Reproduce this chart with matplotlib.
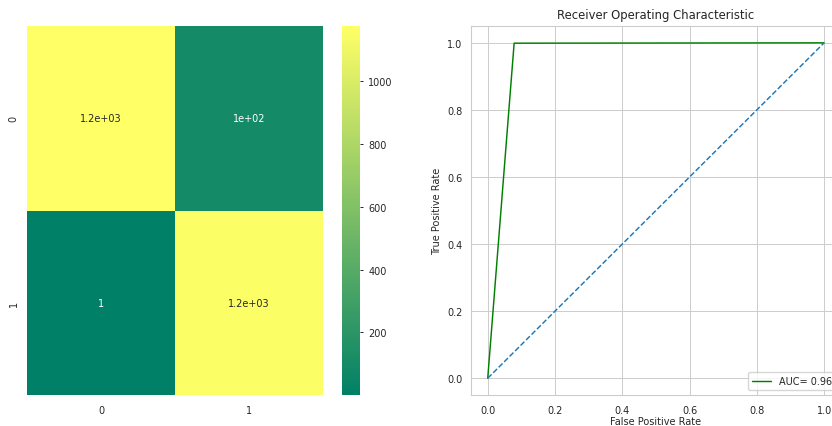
import numpy as np
import seaborn as sns
from matplotlib import pyplot as plt

# confusion matrix counts
cm_rows = [0, 1]
cm_cols = [0, 1]
cm_values = [[1174, 100],
             [1, 1160]]

# roc curve points
fpr = [0.0, 0.0785, 1.0]
tpr = [0.0, 0.999, 1.0]
chance = [0.0, 1.0]

sns.set_style("whitegrid")
plt.rcParams['font.family'] = ['DejaVu Sans']
plt.rcParams['font.size'] = 7
plt.rcParams['axes.titlesize'] = 8.4
plt.rcParams['axes.labelsize'] = 7
plt.rcParams['xtick.labelsize'] = 7
plt.rcParams['ytick.labelsize'] = 7
plt.rcParams['legend.fontsize'] = 7
plt.rcParams['ytick.major.size'] = 2.5
plt.rcParams['lines.linewidth'] = 1.05
plt.rcParams['grid.linewidth'] = 0.7

fig = plt.figure(figsize=(8.32, 4.27), dpi=100)
ax1 = fig.add_axes([0.0325, 0.0726, 0.3558, 0.864])
cax = fig.add_axes([0.411, 0.0726, 0.0216, 0.864])
ax2 = fig.add_axes([0.566, 0.0726, 0.4447, 0.864])

sns.heatmap(np.array(cm_values), annot=True, cmap="summer", ax=ax1,
            cbar_ax=cax, xticklabels=cm_cols, yticklabels=cm_rows,
            annot_kws={"size": 7})
cax.tick_params(length=2.5, width=0.7)

auc = np.trapezoid(tpr, fpr)
ax2.plot(fpr, tpr, 'g', label='AUC= %0.2f' % auc)
ax2.plot(chance, chance, '--')
ax2.set_xlim(-0.05, 1.05)
ax2.set_ylim(-0.05, 1.05)
ax2.set_title('Receiver Operating Characteristic')
ax2.set_xlabel('False Positive Rate', labelpad=1)
ax2.set_ylabel('True Positive Rate')
ax2.legend(loc='lower right')

fig.savefig("out.png", dpi=100)
